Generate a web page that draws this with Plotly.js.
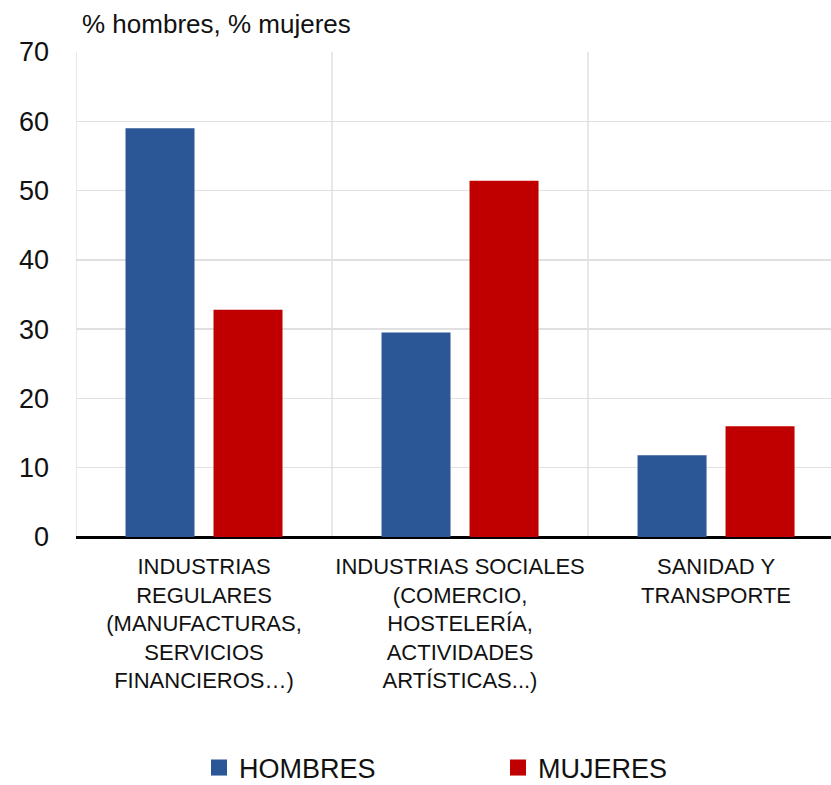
<!DOCTYPE html>
<html>
<head>
<meta charset="utf-8">
<script src="https://cdn.plot.ly/plotly-3.0.1.min.js"></script>
<style>html,body{margin:0;padding:0;background:#fff;}#chart{width:831px;height:785px;}</style>
</head>
<body>
<div id="chart"></div>
<script>
const categories = ["INDUSTRIAS<br>REGULARES<br>(MANUFACTURAS,<br>SERVICIOS<br>FINANCIEROS…)",
                    "INDUSTRIAS SOCIALES<br>(COMERCIO,<br>HOSTELERÍA,<br>ACTIVIDADES<br>ARTÍSTICAS...)",
                    "SANIDAD Y<br>TRANSPORTE"];
const hombres = [59, 29.5, 11.8];
const mujeres = [32.8, 51.4, 16.0];
const yTicks = [0, 10, 20, 30, 40, 50, 60, 70];
const seriesNames = ["HOMBRES", "MUJERES"];
const seriesColors = ["#2B5796", "#C00000"];
const font = "Liberation Sans, Arial, sans-serif";

const traces = [
  {type: "bar", name: seriesNames[0], x: [0, 1, 2], y: hombres, marker: {color: seriesColors[0]}, showlegend: false},
  {type: "bar", name: seriesNames[1], x: [0, 1, 2], y: mujeres, marker: {color: seriesColors[1]}, showlegend: false},
  {type: "scatter", mode: "markers", name: seriesNames[0], x: [null], y: [null],
   marker: {symbol: "square", size: 16, color: seriesColors[0]}},
  {type: "scatter", mode: "markers", name: seriesNames[1], x: [null], y: [null],
   marker: {symbol: "square", size: 16, color: seriesColors[1]}}
];

const layout = {
  width: 831, height: 785,
  margin: {l: 76, r: 0, t: 52, b: 248},
  paper_bgcolor: "#fff", plot_bgcolor: "#fff",
  font: {family: font, color: "#111"},
  barmode: "group",
  bargap: 0.3125, bargroupgap: 0.216,
  showlegend: true,
  title: {text: "% hombres, % mujeres", font: {size: 26, family: font, color: "#111"},
          x: 82/831, xanchor: "left", xref: "container", y: 1 - 24/785, yanchor: "middle", yref: "container"},
  xaxis: {
    type: "linear", range: [-0.5, 2.449],
    tickmode: "array", tickvals: [0, 1, 2], ticktext: categories,
    tickfont: {size: 22, family: font, color: "#111"},
    showgrid: false, zeroline: false, showline: false, ticks: "",
    ticklabelstandoff: 14
  },
  yaxis: {
    range: [0, 70], tickmode: "array", tickvals: yTicks,
    tickfont: {size: 27, family: font, color: "#111"},
    showgrid: true, gridcolor: "#e0e0e0", gridwidth: 1.5,
    zeroline: true, zerolinecolor: "#000", zerolinewidth: 3,
    showline: false, ticks: "", ticklabelstandoff: 26
  },
  shapes: [0.5, 1.5, -0.5].map(v => ({type: "line", xref: "x", yref: "paper", x0: v, x1: v, y0: 0, y1: 1,
                                      line: {color: "#e0e0e0", width: 1.5}, layer: "below"})),
  legend: {orientation: "h", xref: "container", yref: "container", x: 199/831, xanchor: "left",
           y: 1 - 768/785, yanchor: "middle", font: {size: 27, family: font, color: "#111"},
           entrywidth: 254, entrywidthmode: "pixels", itemwidth: 30, traceorder: "normal"}
};

Plotly.newPlot("chart", traces, layout, {displayModeBar: false, staticPlot: true});
</script>
</body>
</html>
